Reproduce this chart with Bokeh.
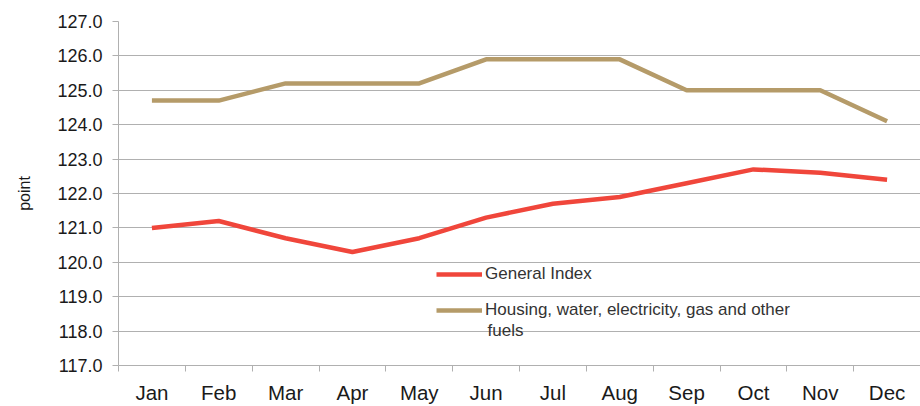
from bokeh.plotting import figure
from bokeh.models import FixedTicker, Legend, LegendItem, Range1d, Label
from bokeh.embed import file_html
from bokeh.resources import INLINE

months = ["Jan", "Feb", "Mar", "Apr", "May", "Jun", "Jul", "Aug", "Sep", "Oct", "Nov", "Dec"]
general_index = [121.0, 121.2, 120.7, 120.3, 120.7, 121.3, 121.7, 121.9, 122.3, 122.7, 122.6, 122.4]
housing = [124.7, 124.7, 125.2, 125.2, 125.2, 125.9, 125.9, 125.9, 125.0, 125.0, 125.0, 124.1]
y_ticks = [117, 118, 119, 120, 121, 122, 123, 124, 125, 126, 127]
series_names = ["General Index", "Housing, water, electricity, gas and other"]
series_name_wrap = "fuels"

FONT = "Liberation Sans"
RED = "#f0463b"
TAN = "#b59b69"
GRID = "#b0b0b0"

xpos = list(range(1, len(months) + 1))

p = figure(width=920, height=406, output_backend="svg", toolbar_location=None,
           x_range=Range1d(0.5, len(months) + 0.5), y_range=Range1d(117, 127),
           min_border_left=118, min_border_right=0, min_border_top=21, min_border_bottom=37)
p.outline_line_color = None
p.background_fill_color = "white"
p.border_fill_color = "white"

r1 = p.line(xpos, general_index, line_color=RED, line_width=4.5)
r2 = p.line(xpos, housing, line_color=TAN, line_width=4.5)

# x axis
p.xaxis.ticker = FixedTicker(ticks=xpos, minor_ticks=[x + 0.5 for x in range(0, len(months) + 1)])
p.xaxis.major_label_overrides = {x: m for x, m in zip(xpos, months)}
p.xaxis.major_tick_out = 0
p.xaxis.major_tick_in = 0
p.xaxis.minor_tick_out = 6
p.xaxis.minor_tick_in = 0
p.xaxis.minor_tick_line_color = GRID
p.xaxis.axis_line_color = GRID
p.xaxis.major_label_standoff = 9
p.xaxis.major_label_text_font = FONT
p.xaxis.major_label_text_font_size = "20.5px"
p.xaxis.major_label_text_color = "#1a1a1a"
p.xgrid.grid_line_color = None

# y axis
p.yaxis.ticker = FixedTicker(ticks=y_ticks, minor_ticks=[])
p.yaxis.major_label_overrides = {t: f"{t:.1f}" for t in y_ticks}
p.yaxis.major_tick_out = 6
p.yaxis.major_tick_in = 0
p.yaxis.major_tick_line_color = GRID
p.yaxis.axis_line_color = GRID
p.yaxis.major_label_standoff = 10
p.yaxis.major_label_text_font = FONT
p.yaxis.major_label_text_font_size = "18px"
p.yaxis.major_label_text_color = "#1a1a1a"
p.yaxis.axis_label = "point"
p.yaxis.axis_label_text_font = FONT
p.yaxis.axis_label_text_font_style = "normal"
p.yaxis.axis_label_text_font_size = "16px"
p.yaxis.axis_label_text_color = "#1a1a1a"
p.yaxis.axis_label_standoff = 21
p.ygrid.grid_line_color = GRID
p.ygrid.grid_line_width = 1

legend = Legend(items=[LegendItem(label=series_names[0], renderers=[r1]),
                       LegendItem(label=series_names[1], renderers=[r2])],
                location=(318, 45), orientation="vertical",
                border_line_color=None, background_fill_alpha=0,
                label_text_font=FONT, label_text_font_size="17px", label_text_color="#333333",
                glyph_width=46, glyph_height=20, label_height=20, label_standoff=3,
                spacing=16, padding=0, margin=0)
p.add_layout(legend)

wrap = Label(x=369, y=35, x_units="screen", y_units="screen", text=series_name_wrap,
             text_font=FONT, text_font_size="17px", text_color="#333333",
             text_baseline="alphabetic", text_align="left")
p.add_layout(wrap)

open("out.html", "w").write(file_html(p, INLINE))
